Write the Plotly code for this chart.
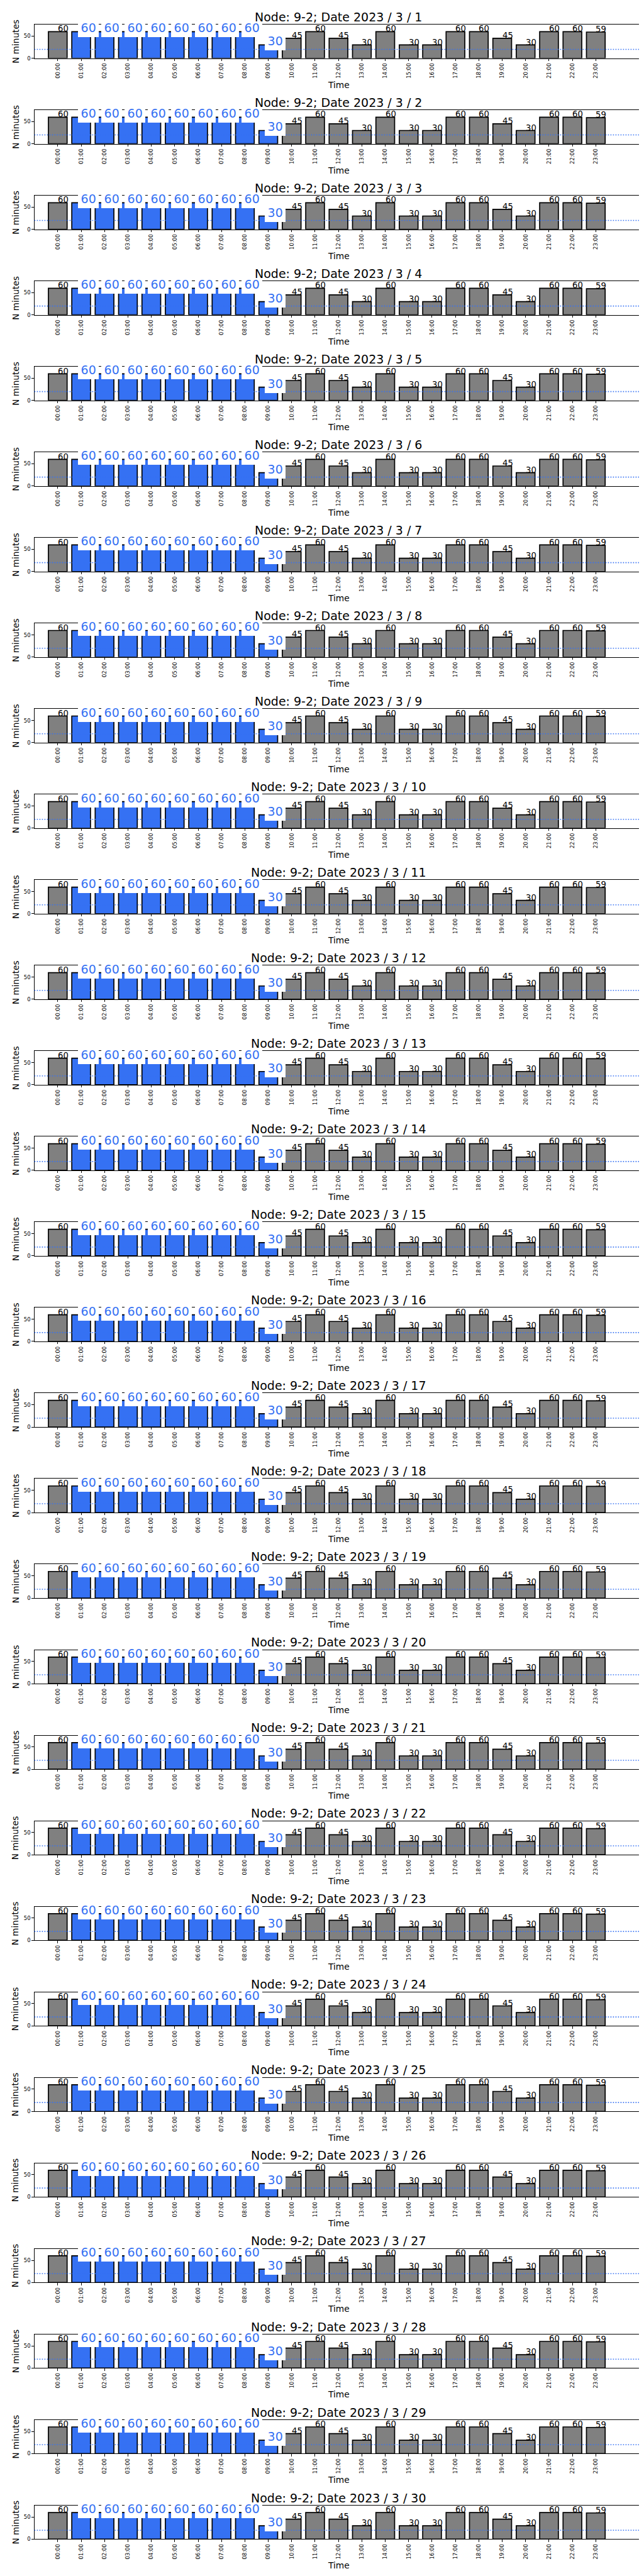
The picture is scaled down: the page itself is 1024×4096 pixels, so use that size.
import plotly.graph_objects as go

# ---------------- data ----------------
NODE = "9-2"
YEAR = 2023
MONTH = 3
days = [1, 2, 3, 4, 5, 6, 7, 8, 9, 10, 11, 12, 13, 14, 15,
        16, 17, 18, 19, 20, 21, 22, 23, 24, 25, 26, 27, 28, 29, 30]
hour_pos = [0, 1, 2, 3, 4, 5, 6, 7, 8, 9, 10, 11,
            12, 13, 14, 15, 16, 17, 18, 19, 20, 21, 22, 23]
hour_labels = ["00:00", "01:00", "02:00", "03:00", "04:00", "05:00",
               "06:00", "07:00", "08:00", "09:00", "10:00", "11:00",
               "12:00", "13:00", "14:00", "15:00", "16:00", "17:00",
               "18:00", "19:00", "20:00", "21:00", "22:00", "23:00"]
# hours drawn in blue (with boxed blue labels)
highlight = [False, True, True, True, True, True, True, True, True, True,
             False, False, False, False, False, False, False, False,
             False, False, False, False, False, False]
threshold = 20

day_pattern_a = [60, 60, 60, 60, 60, 60, 60, 60, 60, 30, 45, 60,
                 45, 30, 60, 30, 30, 60, 60, 45, 30, 60, 60, 59]
minutes_by_day = [day_pattern_a for _ in days]

# ---------------- style / layout ----------------
W, H = 1024, 4096
REF_W, REF_H = 1500.0, 6000.0
AX_L, AX_R = 68.3, 1485.0
FIRST_TOP, PITCH, AX_H = 45.5, 199.5, 78.6
GRAY = "#808080"
BLUE = "#3571f3"
FONT = "DejaVu Sans"

fig = go.Figure()
layout = dict(
    width=W, height=H, margin=dict(l=0, r=0, t=0, b=0),
    paper_bgcolor="white", plot_bgcolor="white",
    showlegend=False, font=dict(family=FONT, color="black"),
)
annotations = []
shapes = []

x_dom = [AX_L / REF_W, AX_R / REF_W]
x_mid = (x_dom[0] + x_dom[1]) / 2

for k, d in enumerate(days):
    n = k + 1
    xs = "x" if n == 1 else f"x{n}"
    ys = "y" if n == 1 else f"y{n}"
    top = FIRST_TOP + k * PITCH
    bot = top + AX_H
    y_dom = [1 - bot / REF_H, 1 - top / REF_H]
    vals = minutes_by_day[k]
    colors = [BLUE if h else GRAY for h in highlight]

    fig.add_trace(go.Bar(
        x=hour_pos, y=vals, width=0.8,
        marker=dict(color=colors, line=dict(color="black", width=1.7)),
        xaxis=xs, yaxis=ys, hoverinfo="skip", showlegend=False,
    ))

    axis_common = dict(
        showline=True, linecolor="black", linewidth=0.9, mirror=True,
        ticks="outside", ticklen=3.4, tickwidth=0.8, tickcolor="black",
        showgrid=False, zeroline=False,
        tickfont=dict(family=FONT, size=8.5, color="black"),
    )
    layout["xaxis" if n == 1 else f"xaxis{n}"] = dict(
        axis_common, domain=x_dom, anchor=ys, range=[-1, 25],
        tickmode="array", tickvals=hour_pos, ticktext=hour_labels,
        tickangle=-90,
    )
    layout["yaxis" if n == 1 else f"yaxis{n}"] = dict(
        axis_common, domain=y_dom, anchor=xs, range=[0, 76],
        tickmode="array", tickvals=[0, 50], ticktext=["0", "50"],
    )

    shapes.append(dict(
        type="line", xref=f"{xs} domain", yref=ys, x0=0, x1=1,
        y0=threshold, y1=threshold, layer="above",
        line=dict(color=BLUE, width=1.6, dash="1.6px,2.4px"),
    ))

    for i, v in enumerate(vals):
        if highlight[i]:
            annotations.append(dict(
                x=hour_pos[i], y=v, xref=xs, yref=ys, text=str(v),
                showarrow=False, xanchor="left", yanchor="bottom",
                xshift=-5.5, yshift=-9.0,
                font=dict(family=FONT, size=19, color=BLUE),
                bgcolor="white", borderpad=4.6, borderwidth=0,
            ))
        else:
            annotations.append(dict(
                x=hour_pos[i], y=v, xref=xs, yref=ys, text=str(v),
                showarrow=False, xanchor="left", yanchor="bottom",
                xshift=0, yshift=-3.1,
                font=dict(family=FONT, size=13.2, color="black"),
                borderpad=0, borderwidth=0,
            ))

    # subplot title
    annotations.append(dict(
        x=x_mid, y=y_dom[1], xref="paper", yref="paper",
        text=f"Node: {NODE}; Date {YEAR} / {MONTH} / {d}",
        showarrow=False, xanchor="center", yanchor="bottom", yshift=1.2,
        font=dict(family=FONT, size=19, color="black"),
        borderpad=0, borderwidth=0,
    ))
    # y label
    annotations.append(dict(
        x=36.4 / REF_W, y=(y_dom[0] + y_dom[1]) / 2, xref="paper", yref="paper",
        text="N minutes", textangle=-90, showarrow=False,
        xanchor="right", yanchor="middle",
        font=dict(family=FONT, size=13.6, color="black"),
        borderpad=0, borderwidth=0,
    ))
    # x label
    annotations.append(dict(
        x=x_mid, y=y_dom[0], xref="paper", yref="paper",
        text="Time", showarrow=False, xanchor="center", yanchor="top",
        yshift=-33.9,
        font=dict(family=FONT, size=13.8, color="black"),
        borderpad=0, borderwidth=0,
    ))

layout["annotations"] = annotations
layout["shapes"] = shapes
fig.update_layout(**layout)

fig.write_html("out.html")
